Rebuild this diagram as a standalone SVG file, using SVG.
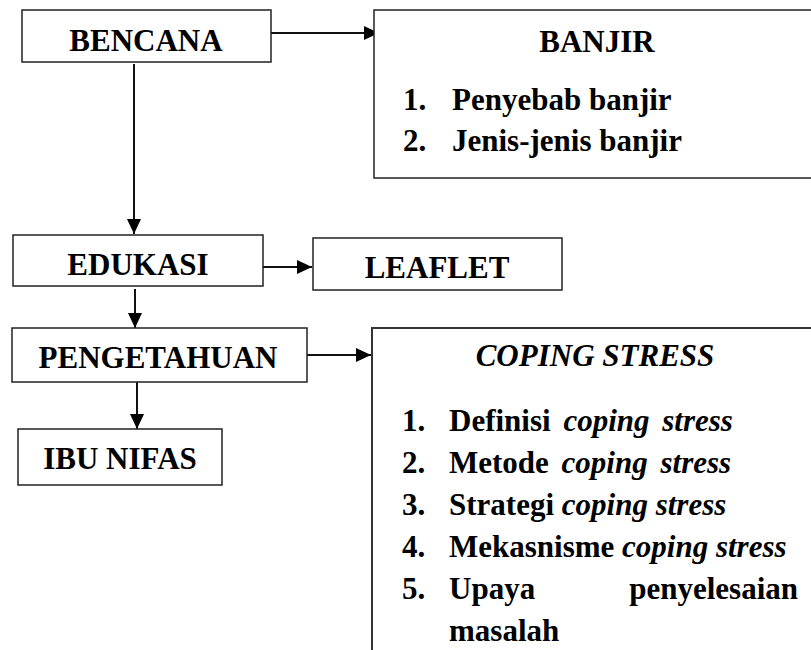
<svg xmlns="http://www.w3.org/2000/svg" width="811" height="650" viewBox="0 0 811 650">
<style>
.box{fill:#fff;stroke:#222;stroke-width:1.5}
.big{fill:#fff;stroke:#333;stroke-width:2}
text{font-size:31px;font-weight:bold;fill:#000}
.c{text-anchor:middle}
.i{font-style:italic}
.con path{fill:none;stroke:#111;stroke-width:2;marker-end:url(#ah)}
</style>
<defs>
<marker id="ah" markerUnits="userSpaceOnUse" markerWidth="15" markerHeight="14" refX="15" refY="7" orient="auto">
<path d="M0,0 L15,7 L0,14 z" fill="#000"/>
</marker>
</defs>
<rect width="811" height="650" fill="#fff"/>
<g class="con">
<path d="M271,33 H379"/>
<path d="M134,64 V234"/>
<path d="M263,267 H312"/>
<path d="M135,289 V328"/>
<path d="M307,355 H371"/>
<path d="M137,382 V429"/>
</g>
<g font-family="Liberation Serif, DejaVu Serif, serif">
<g id="bencana">
<rect class="box" x="22" y="10" width="249" height="52"/>
<text class="c" x="146" y="51">BENCANA</text>
</g>
<g id="banjir">
<rect class="box" x="374" y="10" width="440" height="168"/>
<text class="c" x="597" y="52">BANJIR</text>
<text x="403" y="110">1.</text><text x="452" y="110">Penyebab banjir</text>
<text x="403" y="151">2.</text><text x="452" y="151">Jenis-jenis banjir</text>
</g>
<g id="edukasi">
<rect class="box" x="13" y="235" width="250" height="51"/>
<text class="c" x="138" y="275">EDUKASI</text>
</g>
<g id="leaflet">
<rect class="box" x="313" y="238" width="249" height="52"/>
<text class="c" x="437" y="278">LEAFLET</text>
</g>
<g id="pengetahuan">
<rect class="box" x="12" y="328" width="295" height="54"/>
<text class="c" x="158" y="368">PENGETAHUAN</text>
</g>
<g id="ibunifas">
<rect class="box" x="18" y="429" width="204" height="56"/>
<text class="c" x="120" y="469">IBU NIFAS</text>
</g>
<g id="coping">
<rect class="big" x="372" y="328" width="445" height="330"/>
<text class="c i" x="595" y="366">COPING STRESS</text>
<text x="402" y="431">1.</text><text x="449" y="431" word-spacing="5">Definisi <tspan class="i">coping stress</tspan></text>
<text x="402" y="473">2.</text><text x="449" y="473" word-spacing="5">Metode <tspan class="i">coping stress</tspan></text>
<text x="402" y="515">3.</text><text x="449" y="515">Strategi<tspan class="i"> coping stress</tspan></text>
<text x="402" y="557">4.</text><text x="449" y="557">Mekasnisme <tspan class="i">coping stress</tspan></text>
<text x="402" y="599">5.</text><text x="449" y="599">Upaya</text><text x="798" y="599" text-anchor="end">penyelesaian</text>
<text x="449" y="641">masalah</text>
</g>
</g>
</svg>
